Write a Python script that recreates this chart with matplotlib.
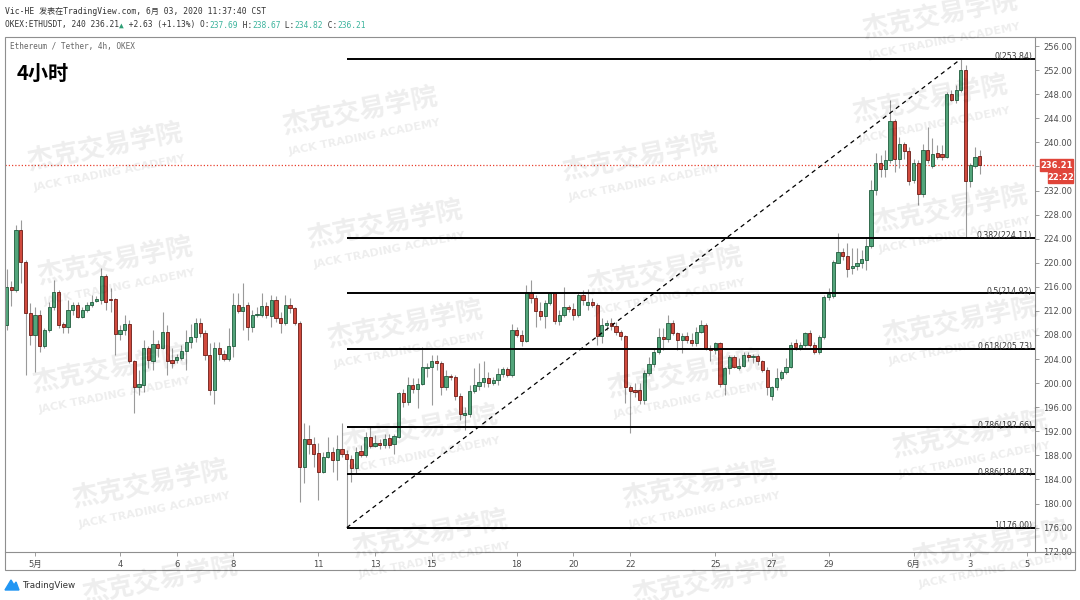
import matplotlib
matplotlib.use("Agg")
import matplotlib.pyplot as plt
from matplotlib.patches import Rectangle, Polygon
import numpy as np
import pandas as pd

plt.rcParams['font.family'] = ['DejaVu Sans', 'Noto Sans CJK SC']

# ETH/USDT 4h candles, 2020-04-30 00:00 .. 2020-06-03 08:00 (CST)
opens = [209.7, 215.9, 215.5, 225.5, 220.2, 211.7, 208.0, 211.3, 206.1, 208.8,
         212.6, 215.2, 209.9, 209.4, 212.1, 213.0, 211.0, 212.1, 213.0, 213.6,
         213.8, 217.8, 213.9, 213.9, 208.2, 208.8, 209.8, 203.6, 199.3, 199.7,
         205.9, 203.7, 206.5, 205.9, 208.5, 203.8, 203.8, 204.1, 205.4, 206.9,
         207.6, 210.0, 208.4, 204.7, 198.9, 205.8, 204.8, 204.0, 206.1, 213.0,
         212.0, 213.0, 209.4, 211.3, 211.3, 212.8, 211.15, 213.8, 210.8, 210.0,
         213.0, 212.4, 210.0, 186.0, 190.8, 189.9, 188.4, 185.3, 187.7, 188.5,
         187.3, 189.05, 188.3, 187.4, 185.85, 188.7, 188.05, 191.1, 189.6, 190.0,
         189.7, 190.9, 189.9, 191.1, 198.3, 196.9, 199.7, 199.1, 199.85, 202.5,
         202.6, 203.6, 203.3, 199.4, 201.2, 201.0, 197.9, 194.7, 194.8, 198.75,
         199.5, 200.2, 200.8, 200.1, 200.5, 201.5, 202.3, 201.35, 208.8, 208.0,
         207.05, 215.0, 214.1, 212.0, 211.2, 213.25, 214.9, 210.4, 211.4, 212.7,
         212.25, 211.4, 214.6, 213.0, 213.4, 213.0, 207.9, 209.65, 210.05, 209.5,
         208.55, 207.8, 199.3, 198.85, 198.85, 197.2, 201.7, 203.1, 205.2, 207.6,
         207.4, 210.0, 208.3, 207.2, 207.8, 207.2, 206.6, 208.55, 209.66, 205.9,
         205.5, 206.6, 199.85, 202.5, 204.3, 202.5, 202.85, 204.7, 204.3, 204.5,
         203.6, 202.2, 197.9, 199.3, 200.8, 201.9, 202.75, 206.6, 205.9, 206.4,
         208.3, 206.3, 205.2, 207.6, 214.25, 214.5, 220.0, 221.8, 221.2, 219.1,
         219.45, 219.9, 220.45, 222.7, 232.1, 236.6, 235.5, 237.05, 243.6, 237.2,
         239.7, 238.6, 233.7, 236.5, 231.4, 238.8, 236.07, 238.2, 238.05, 237.5,
         248.1, 247.1, 248.7, 252.1, 233.5, 236.07, 237.69]
highs = [219.0, 216.9, 226.3, 227.1, 220.4, 213.3, 212.7, 212.2, 209.1, 213.5,
         217.1, 215.5, 210.2, 213.8, 213.5, 213.5, 212.7, 213.5, 214.6, 214.4,
         219.1, 218.1, 215.8, 214.1, 209.7, 211.3, 210.5, 203.8, 202.2, 207.2,
         206.2, 208.8, 207.2, 211.8, 209.7, 205.8, 204.9, 206.3, 208.8, 209.9,
         210.9, 210.8, 208.8, 206.6, 206.9, 206.9, 205.5, 209.1, 214.9, 214.9,
         216.6, 213.5, 212.1, 212.7, 214.9, 213.5, 214.6, 214.4, 211.9, 214.6,
         214.1, 212.7, 210.3, 193.3, 193.0, 191.1, 190.0, 188.6, 191.1, 189.4,
         191.4, 193.3, 188.9, 188.0, 189.4, 189.7, 191.9, 192.7, 191.4, 190.8,
         191.6, 191.6, 191.6, 198.6, 199.1, 201.1, 200.8, 200.8, 206.05, 203.3,
         204.7, 204.7, 203.6, 202.2, 201.6, 201.4, 198.3, 196.1, 199.7, 202.5,
         203.3, 203.6, 201.9, 201.1, 202.5, 202.7, 202.7, 209.9, 209.4, 208.8,
         216.3, 217.1, 214.6, 213.5, 213.8, 215.2, 215.2, 212.1, 216.0, 213.0,
         213.3, 214.9, 215.5, 215.7, 214.1, 213.3, 210.8, 210.5, 210.8, 210.2,
         208.8, 208.0, 199.7, 200.0, 200.0, 202.2, 204.4, 205.8, 209.1, 209.1,
         211.3, 210.5, 208.55, 208.3, 208.55, 208.3, 209.4, 210.5, 209.95, 206.3,
         206.9, 206.9, 202.7, 204.7, 204.7, 204.1, 205.2, 205.2, 204.9, 204.9,
         203.8, 202.7, 199.6, 202.5, 202.2, 204.1, 206.8, 207.4, 206.9, 208.5,
         208.9, 206.9, 208.0, 214.6, 215.75, 220.45, 224.9, 222.4, 223.3, 222.4,
         222.4, 222.1, 224.3, 233.7, 238.2, 237.9, 238.7, 247.0, 243.8, 240.9,
         240.1, 239.3, 237.3, 237.0, 239.8, 242.5, 240.8, 239.6, 239.6, 248.4,
         248.7, 249.5, 253.84, 252.8, 236.5, 239.3, 238.67]
lows = [208.8, 212.8, 215.2, 216.6, 201.4, 206.3, 201.9, 205.2, 205.8, 208.5,
        212.1, 209.1, 208.3, 208.3, 211.3, 210.8, 210.8, 211.9, 212.7, 213.4,
        213.2, 212.1, 211.9, 204.7, 207.2, 208.0, 203.3, 195.0, 198.0, 198.6,
        202.5, 202.2, 204.4, 205.6, 201.3, 202.5, 203.3, 203.8, 202.2, 205.8,
        206.9, 207.7, 203.8, 198.0, 196.6, 203.8, 203.6, 203.6, 204.4, 211.6,
        208.8, 207.2, 208.5, 211.0, 211.0, 210.8, 209.4, 210.2, 208.3, 209.7,
        211.6, 209.7, 180.3, 183.4, 188.3, 186.1, 180.6, 185.0, 187.5, 185.3,
        183.9, 187.8, 176.0, 183.6, 185.0, 187.8, 187.8, 189.2, 189.4, 189.0,
        189.2, 189.2, 188.3, 190.9, 196.1, 196.4, 198.3, 195.8, 199.7, 201.1,
        196.4, 202.2, 198.0, 198.9, 200.5, 197.2, 193.9, 192.2, 194.4, 198.3,
        198.9, 199.4, 199.4, 199.7, 199.7, 201.1, 201.1, 201.1, 207.7, 206.1,
        206.9, 213.3, 209.4, 210.5, 209.1, 213.0, 209.9, 209.7, 211.0, 211.9,
        210.5, 211.0, 213.0, 212.1, 212.7, 206.3, 206.6, 208.8, 208.8, 208.0,
        207.2, 196.7, 191.7, 197.75, 196.6, 196.6, 201.35, 202.7, 204.9, 205.5,
        206.9, 208.0, 205.5, 205.0, 206.6, 206.1, 206.1, 208.3, 205.5, 203.6,
        204.9, 199.4, 198.0, 201.6, 202.5, 202.2, 202.7, 203.6, 203.3, 203.0,
        201.9, 198.0, 197.2, 198.9, 200.5, 201.6, 202.5, 205.5, 205.5, 206.0,
        206.0, 204.9, 204.9, 207.4, 213.8, 214.1, 219.9, 220.45, 217.7, 218.2,
        218.8, 219.1, 218.8, 222.4, 231.3, 234.3, 234.3, 236.5, 235.1, 235.7,
        237.3, 232.9, 233.2, 229.6, 231.0, 236.5, 235.7, 237.3, 237.1, 237.35,
        246.8, 246.5, 248.4, 224.3, 232.6, 235.7, 234.82]
closes = [215.9, 215.5, 225.5, 220.2, 211.7, 208.0, 211.3, 206.1, 208.8, 212.6,
          215.2, 209.7, 209.4, 212.1, 213.0, 211.0, 212.1, 213.0, 213.5, 213.9,
          217.8, 213.5, 213.8, 208.1, 208.8, 209.8, 203.6, 199.4, 199.8, 205.9,
          203.8, 206.5, 205.9, 208.5, 203.6, 203.4, 204.4, 205.4, 206.9, 207.6,
          210.0, 208.3, 204.7, 198.9, 205.8, 204.8, 204.0, 206.1, 213.0, 212.0,
          212.7, 209.4, 211.3, 211.5, 212.8, 211.3, 213.8, 210.8, 210.0, 213.0,
          212.4, 210.0, 186.0, 190.8, 189.9, 188.3, 185.3, 187.8, 188.5, 187.3,
          189.05, 188.3, 187.4, 185.85, 188.6, 188.05, 191.1, 189.6, 190.0, 189.7,
          190.8, 189.8, 191.2, 198.3, 196.9, 199.7, 199.0, 199.85, 202.6, 202.7,
          203.6, 203.3, 199.4, 201.2, 201.0, 197.9, 194.8, 195.0, 198.75, 199.7,
          200.2, 200.8, 200.1, 200.5, 201.5, 202.3, 201.35, 208.8, 208.0, 207.05,
          215.2, 214.1, 212.0, 211.2, 213.25, 214.9, 210.4, 211.4, 212.7, 212.25,
          211.4, 214.6, 213.8, 213.4, 213.0, 207.9, 209.65, 210.05, 209.5, 208.55,
          207.8, 199.3, 198.75, 198.6, 197.2, 201.7, 203.1, 205.2, 207.7, 207.4,
          210.0, 208.3, 207.2, 207.8, 207.2, 206.6, 208.55, 209.66, 205.8, 205.5,
          206.6, 199.85, 202.5, 204.3, 202.7, 202.85, 204.7, 204.3, 204.5, 203.6,
          202.2, 199.3, 199.3, 200.8, 201.9, 202.75, 206.3, 206.0, 206.4, 208.3,
          206.3, 205.2, 207.7, 214.25, 214.8, 220.2, 221.8, 221.2, 218.95, 219.5,
          220.0, 220.6, 222.7, 232.1, 236.6, 235.5, 237.05, 243.6, 237.2, 239.7,
          238.6, 233.5, 236.5, 231.4, 238.7, 237.07, 238.0, 237.6, 237.6, 248.1,
          247.1, 248.7, 252.0, 233.5, 236.2, 237.6, 236.21]

fib_ratios = ["0", "0.382", "0.5", "0.618", "0.786", "0.886", "1"]
fib_levels = [253.84, 224.11, 214.92, 205.73, 192.66, 184.87, 176.00]
last_price = 236.21
countdown = "22:22"

tick_dates = ["2020-05-01", "2020-05-04", "2020-05-06", "2020-05-08", "2020-05-11",
              "2020-05-13", "2020-05-15", "2020-05-18", "2020-05-20", "2020-05-22",
              "2020-05-25", "2020-05-27", "2020-05-29", "2020-06-01", "2020-06-03",
              "2020-06-05"]
tick_labels = ["5月", "4", "6", "8", "11", "13", "15", "18", "20", "22", "25",
               "27", "29", "6月", "3", "5"]

assert len(opens) == len(highs) == len(lows) == len(closes)

start = pd.Timestamp("2020-04-30 00:00")
step = pd.Timedelta(hours=4)
x = np.arange(len(opens))
tick_pos = [(pd.Timestamp(d) - start) / step for d in tick_dates]

W, H = 1080, 600


def fx(px):
    return px / W


def fy(py):
    return 1 - py / H


fig = plt.figure(figsize=(10.8, 6.0), dpi=100)
fig.patch.set_facecolor("white")
ax = fig.add_axes([fx(5), fy(552), fx(1035) - fx(5), fy(37) - fy(552)])

# candles
o = np.array(opens)
c = np.array(closes)
up = c >= o
ax.vlines(x, lows, highs, color="#9a9a9a", lw=0.8, zorder=2)
body_bot = np.minimum(o, c)
body_h = np.maximum(np.abs(c - o), 0.15)
ax.bar(x[up], body_h[up], bottom=body_bot[up], width=0.68,
       color="#53a57b", edgecolor="#1f5b3c", linewidth=0.6, zorder=3)
ax.bar(x[~up], body_h[~up], bottom=body_bot[~up], width=0.68,
       color="#d04a3e", edgecolor="#6b1c16", linewidth=0.6, zorder=3)

xmin, xmax = -0.35, 217.7
ax.set_xlim(xmin, xmax)
ax.set_ylim(171.95, 257.5)

# fibonacci retracement
i_low = int(np.argmin(lows))
i_high = int(np.argmax(highs))
for r, lv in zip(fib_ratios, fib_levels):
    ax.plot([i_low, xmax], [lv, lv], color="black", lw=1.4, zorder=4,
            solid_capstyle="butt")
    ax.text(217.1, lv + 0.35, f"{r}({lv:.2f})", ha="right", va="center",
            fontsize=5.6, color="#3a3a3a", zorder=5)
ax.plot([i_low, i_high], [lows[i_low], highs[i_high]], color="black",
        lw=0.9, ls=(0, (3.5, 3)), zorder=4)

# last price line
ax.axhline(last_price, color="#e8402f", lw=0.9, ls=(0, (1, 1.6)), zorder=1)

# axes styling
for s in ["top", "left"]:
    ax.spines[s].set_visible(False)
for s in ["right", "bottom"]:
    ax.spines[s].set_color("#8f8f8f")
    ax.spines[s].set_linewidth(0.8)
ax.yaxis.tick_right()
yt = np.arange(172, 257, 4)
ax.set_yticks(yt)
# the 236.00 label sits under the last-price box
ax.set_yticklabels(["" if abs(v - last_price) < 2 else f"{v:.2f}" for v in yt])
ax.tick_params(axis="y", length=3, width=0.6, color="#8f8f8f",
               labelsize=6, labelcolor="#4d4d4d", pad=3)
ax.set_xticks(tick_pos)
ax.set_xticklabels(tick_labels)
ax.tick_params(axis="x", length=3, width=0.6, color="#8f8f8f",
               labelsize=6, labelcolor="#4d4d4d", pad=3)

# outer frame
fig.patches.append(Rectangle((fx(5), fy(570)), fx(1075) - fx(5), fy(37) - fy(570),
                             transform=fig.transFigure, fill=False,
                             ec="#8f8f8f", lw=0.8))
fig.lines.append(plt.Line2D([fx(1035), fx(1075)], [fy(552), fy(552)],
                            transform=fig.transFigure, color="#8f8f8f", lw=0.8))

# price label boxes
fig.patches.append(Rectangle((fx(1040), fy(171)), fx(33), 12 / H,
                             transform=fig.transFigure, color="#e0453a"))
fig.text(fx(1056.5), fy(165), f"{last_price:.2f}", ha="center", va="center",
         fontsize=6, color="white", weight="bold")
fig.patches.append(Rectangle((fx(1048), fy(183)), fx(25), 11 / H,
                             transform=fig.transFigure, color="#e0453a"))
fig.text(fx(1060.5), fy(177.5), countdown, ha="center", va="center",
         fontsize=6, color="white", weight="bold")

# header
mono = ["DejaVu Sans Mono", "Noto Sans CJK SC"]
fig.text(fx(5), fy(11), "Vic-HE 发表在TradingView.com, 6月 03, 2020 11:37:40 CST",
         fontsize=5.8, family=mono, color="#333333", va="center")
segs = [("OKEX:ETHUSDT, 240 236.21", "#333333"), ("▲", "#2e9e75"),
        (" +2.63 (+1.13%) O:", "#333333"), ("237.69", "#3bb39c"),
        (" H:", "#333333"), ("238.67", "#3bb39c"), (" L:", "#333333"),
        ("234.82", "#3bb39c"), (" C:", "#333333"), ("236.21", "#3bb39c")]
prev = fig.text(fx(5), fy(25), segs[0][0], fontsize=5.7, family=mono,
                color=segs[0][1], va="center")
for txt, col in segs[1:]:
    prev = ax.annotate(txt, xy=(1, 0.5), xycoords=prev, va="center",
                       ha="left", fontsize=5.7, family=mono, color=col,
                       annotation_clip=False)

fig.text(fx(10), fy(47), "Ethereum / Tether, 4h, OKEX", fontsize=5.6,
         family=mono, color="#666666", va="center")
fig.text(fx(17), fy(73), "4小时", fontsize=14.5, weight="bold",
         family=["Noto Sans CJK SC", "DejaVu Sans"], color="black", va="center")

# TradingView logo
fig.patches.append(Polygon([[fx(5), fy(590)], [fx(11), fy(580)], [fx(14), fy(585)],
                            [fx(16), fy(582)], [fx(19), fy(590)]],
                           closed=True, transform=fig.transFigure,
                           color="#2196f3"))
fig.text(fx(22), fy(585), "TradingView", fontsize=6.3, color="#333333",
         va="center")

# watermarks (tiles whose subtitle would fall below the image get none)
wm_pos = [(360, 112), (105, 148), (640, 158), (930, 100), (385, 225), (115, 262),
          (665, 272), (950, 210), (405, 325), (110, 370), (685, 375), (960, 322),
          (420, 430), (150, 485), (700, 485), (970, 435), (430, 535), (160, 581),
          (990, 545), (710, 582), (940, 16)]
for cx, cy in wm_pos:
    fig.text(fx(cx), fy(cy), "杰克交易学院", fontsize=19, weight="bold",
             family=["Noto Sans CJK SC"], color="black", alpha=0.07,
             rotation=11, ha="center", va="center", rotation_mode="anchor",
             zorder=10)
    if cy + 25 < 588:
        fig.text(fx(cx + 5), fy(cy + 25), "JACK TRADING ACADEMY", fontsize=8,
                 weight="bold", color="black", alpha=0.07, rotation=11,
                 ha="center", va="center", rotation_mode="anchor", zorder=10)

fig.savefig("out.png", dpi=100)
